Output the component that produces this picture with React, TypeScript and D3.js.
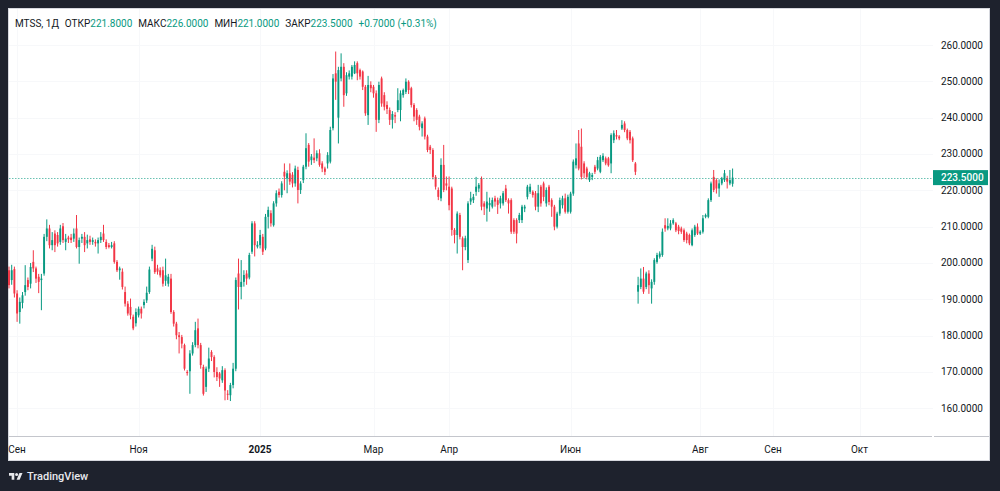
import React from "react";
import * as d3 from "d3";

// ---- Data (daily candles, MTSS) ----
const OPEN = [
198.0,195.3,198.3,191.6,186.5,189.0,192.0,195.3,194.3,200.3,198.5,196.2,195.3,197.1,207.2,209.5,204.9,208.1,207.7,205.8,
210.1,205.8,207.0,207.0,206.7,209.5,204.4,206.7,207.2,205.4,206.5,205.8,205.8,205.4,206.3,208.1,205.8,204.9,204.4,205.4,
200.3,198.0,197.6,192.0,188.8,187.9,185.2,183.4,185.6,187.4,188.4,189.7,192.0,201.2,203.5,198.5,198.0,198.0,195.1,194.3,
195.7,186.5,183.3,180.1,179.6,177.4,170.0,170.2,
175.1,177.4,182.0,177.4,171.4,165.9,170.9,175.5,174.1,170.0,169.6,167.7,170.5,164.0,163.6,166.4,170.9,197.1,193.4,194.8,
197.1,196.0,203.1,210.9,204.5,204.9,207.2,204.0,212.7,213.7,210.4,216.4,219.6,218.7,225.1,223.3,224.7,224.3,221.9,225.6,
220.1,222.8,226.5,232.5,228.3,229.0,228.8,230.2,227.4,226.0,227.4,227.9,237.1,252.2,240.0,250.8,254.0,246.7,251.3,251.3,
252.2,255.0,253.1,252.7,248.5,240.7,
249.0,248.5,246.7,239.4,250.8,246.2,243.5,242.1,239.4,240.7,242.1,242.1,246.2,247.1,249.9,248.1,243.5,242.1,240.3,237.1,
239.8,234.8,232.0,231.1,223.7,220.1,217.8,227.0,221.9,221.0,220.5,209.1,207.7,213.2,206.8,204.4,200.8,
216.9,217.3,219.6,220.5,223.3,216.4,215.0,215.9,215.5,217.8,217.3,216.4,216.4,220.5,217.3,217.3,211.8,211.8,211.8,211.8,
215.0,218.2,219.6,219.6,219.2,215.5,221.0,221.9,216.4,
221.0,217.3,215.5,210.0,213.6,215.9,217.8,214.1,214.1,219.1,226.9,232.9,232.0,227.4,226.0,222.8,223.7,226.5,226.0,225.1,
228.3,228.8,228.8,227.4,233.8,235.2,234.8,237.0,238.4,236.6,236.1,234.3,227.4,
192.1,193.4,195.7,193.4,197.1,193.0,194.8,200.3,201.7,202.2,210.4,209.5,209.5,210.9,210.9,210.0,209.5,209.0,208.1,207.7,
204.9,207.7,210.0,208.1,208.6,212.7,212.7,217.3,223.7,222.8,220.5,221.9,222.8,223.3,221.9,221.8];

const HIGH = [
199.0,199.5,199.0,192.5,190.5,192.0,199.4,196.0,200.0,203.5,199.0,197.0,197.0,208.0,212.0,210.5,208.5,209.0,208.5,210.5,
211.0,208.0,207.5,208.0,209.5,213.2,207.0,208.0,208.5,207.8,207.5,207.0,206.5,207.0,208.5,210.5,206.5,205.5,205.8,206.0,
200.8,199.0,198.5,193.5,189.5,190.2,185.8,187.5,188.0,188.0,190.0,193.5,199.0,205.0,204.5,199.5,198.8,199.0,201.2,197.0,
197.0,187.0,183.8,181.0,180.2,177.8,170.5,176.0,
178.2,183.8,184.7,178.0,172.0,171.5,176.7,176.0,174.6,171.3,170.0,171.6,171.0,165.0,167.0,172.5,196.0,201.2,200.8,198.0,
198.0,202.8,211.5,211.5,206.0,209.1,208.0,213.5,215.5,214.5,217.0,220.0,220.5,222.5,227.4,225.5,227.4,225.0,226.8,226.5,
222.5,227.0,235.7,233.0,230.0,234.3,231.0,231.3,228.0,226.5,230.5,237.5,252.0,258.2,254.0,257.7,255.0,252.5,253.0,254.5,
255.5,255.5,253.5,253.0,249.0,251.5,
250.0,249.0,247.5,249.9,251.3,247.0,244.5,242.8,241.8,241.5,248.1,247.5,248.0,250.8,250.3,248.5,244.0,242.6,240.8,239.0,
240.3,235.3,232.5,231.6,224.2,220.8,228.8,232.5,223.8,223.8,221.0,209.6,214.2,213.8,207.3,207.5,217.0,
219.6,219.0,223.7,222.0,223.8,217.0,219.6,218.0,218.0,218.5,218.0,218.5,219.8,221.5,217.8,217.8,212.3,212.3,213.8,216.0,
216.0,221.5,221.8,220.0,219.8,221.5,221.5,222.4,220.8,
221.5,217.8,216.0,214.1,218.0,218.5,219.1,218.8,219.6,228.5,232.9,236.6,237.0,228.0,226.5,225.1,224.8,227.0,229.2,229.7,
230.2,229.3,229.2,235.7,236.5,236.6,235.2,239.3,239.0,237.0,236.6,234.8,227.8,
196.2,198.5,198.9,197.6,198.0,195.5,201.3,202.8,203.2,209.5,212.3,212.3,211.8,212.3,211.3,210.5,210.0,209.5,208.6,208.1,
209.5,210.5,210.9,209.0,213.2,213.6,217.8,222.4,225.6,223.3,223.0,223.7,225.6,224.0,225.6,226.0];

const LOW = [
193.0,194.0,190.5,183.8,183.3,187.5,191.0,192.5,193.0,197.5,194.5,191.7,187.0,196.5,206.0,204.0,203.5,203.0,204.5,205.0,
205.5,203.5,205.5,205.5,205.8,204.0,199.8,205.5,203.0,204.0,205.0,205.0,204.5,202.6,205.5,205.8,203.8,204.0,204.0,199.8,
197.5,195.4,192.7,188.0,185.5,184.5,181.5,182.5,185.0,184.7,187.5,189.0,191.5,200.5,197.0,196.8,196.0,193.5,193.7,193.5,
186.0,182.5,179.0,175.1,176.5,170.4,169.0,164.0,
174.5,176.8,176.5,170.9,163.5,164.5,170.0,173.0,168.5,167.5,165.9,167.0,162.2,162.3,162.0,165.5,170.2,187.2,190.0,193.5,
194.0,195.5,202.5,201.8,204.0,204.0,202.2,203.5,209.5,210.0,210.0,215.5,218.0,218.0,220.0,219.2,221.5,220.8,221.0,216.4,
219.0,222.0,225.8,226.5,227.0,227.5,228.0,226.5,225.0,224.2,226.0,227.4,236.5,244.9,232.9,250.0,243.0,246.0,250.5,250.5,
252.0,250.3,250.5,247.6,240.5,238.0,
247.0,245.5,236.1,238.5,243.0,242.0,241.0,238.0,237.0,238.5,241.5,239.0,245.5,246.5,246.5,242.8,239.0,238.0,236.5,234.8,
234.0,230.5,230.0,223.0,220.2,217.3,217.0,219.5,220.0,214.5,207.5,205.4,202.6,206.5,198.0,203.5,200.0,
216.0,216.5,218.5,219.5,214.5,213.2,211.4,214.1,215.0,215.5,213.5,215.0,215.8,216.8,213.6,208.0,208.0,205.4,211.0,211.0,
214.0,217.5,219.0,218.0,214.5,214.0,215.5,217.0,215.5,
215.9,212.7,209.0,209.5,213.0,215.0,213.6,213.6,213.6,218.5,226.0,225.5,223.0,223.3,223.0,222.3,222.8,224.5,225.5,224.7,
227.8,226.9,226.5,224.7,233.0,234.0,233.8,236.6,236.0,233.8,232.9,227.8,224.2,
188.8,192.8,191.5,192.8,191.5,188.8,194.0,199.8,201.2,201.7,208.6,209.0,209.0,210.5,208.5,207.9,208.0,205.8,205.4,204.9,
204.6,207.2,207.7,207.7,208.1,212.3,212.3,216.8,219.5,219.1,218.2,221.4,222.3,220.5,221.4,221.0];

const CLOSE = [
193.9,198.0,191.6,186.1,189.3,191.1,193.9,193.4,198.9,198.5,195.7,194.8,195.7,207.2,209.5,204.9,206.3,204.9,205.4,209.5,
206.3,206.7,206.5,206.3,208.1,204.4,206.3,207.2,204.9,206.3,205.8,206.3,205.4,206.3,207.2,206.3,204.4,204.4,204.9,200.3,
198.0,198.5,193.4,188.8,186.1,185.6,182.0,186.5,187.4,186.1,189.3,191.8,198.2,203.9,197.5,197.6,196.6,194.3,196.6,196.2,
186.5,183.3,180.1,179.6,177.8,170.9,169.7,175.1,
177.4,181.5,177.4,171.9,164.0,170.9,173.7,174.1,170.0,168.6,168.2,170.5,164.9,163.8,166.4,170.9,195.3,193.4,194.8,196.7,
195.7,202.2,210.9,204.9,205.0,207.7,203.1,212.7,214.6,210.9,216.4,219.2,218.7,221.9,223.8,224.7,222.4,221.9,226.0,220.1,
221.9,226.5,231.6,227.9,229.3,228.3,230.2,227.0,226.0,225.1,229.7,236.6,250.8,249.9,253.1,254.0,246.2,251.7,252.2,254.0,
254.5,252.2,251.3,248.5,241.2,249.0,
248.1,246.7,239.4,249.0,243.9,243.0,242.4,239.4,241.0,240.3,244.8,246.7,247.6,249.9,247.6,243.5,240.3,239.4,237.5,238.4,
234.8,231.1,231.1,223.7,221.0,218.2,227.0,220.1,221.3,215.9,209.1,207.7,213.6,207.2,204.4,206.8,216.4,
217.8,218.2,221.0,221.5,215.5,215.5,216.9,216.5,217.3,216.9,216.0,217.8,219.2,217.3,216.4,208.6,208.6,208.1,213.2,215.5,
215.5,221.0,221.0,218.7,215.5,219.2,216.4,218.2,220.1,
216.8,215.5,210.0,213.6,217.3,217.8,214.1,218.2,219.1,227.9,228.8,226.0,223.7,224.7,223.7,224.7,224.2,225.1,228.3,229.2,
229.5,227.4,226.9,235.2,235.7,234.8,234.3,238.0,236.6,234.3,233.8,228.3,225.1,
193.9,195.7,192.1,197.1,193.9,194.8,200.8,202.2,202.6,208.6,209.5,210.2,210.9,211.8,209.0,208.8,208.6,206.3,206.3,205.4,
209.0,210.0,208.1,208.6,212.3,213.2,217.3,221.9,220.1,220.5,221.9,223.3,224.7,222.4,222.8,223.5];

const PRICE_TICKS = [160, 170, 180, 190, 200, 210, 220, 230, 240, 250, 260];
const MONTH_LABELS = ["Сен", "Ноя", "2025", "Мар", "Апр", "Июн", "Авг", "Сен", "Окт"];
const MONTH_INDEX = [3, 48, 93, 135, 163, 208, 256, 283, 315];
const MONTH_BOLD = [false, false, true, false, false, false, false, false, false];
const SYMBOL = "MTSS, 1Д";
const OHLC_KEYS = ["ОТКР", "МАКС", "МИН", "ЗАКР"];

const W = 1000, H = 491;
const PANEL = { x: 8, y: 8, r: 990, b: 461 };
const PLOT_R = 933, AXIS_Y = 436.5;
const UP = "#089981", DOWN = "#f23645", TEXT = "#131722";
const FONT = "Roboto, 'Noto Sans', sans-serif";

export default function App() {
  const n = CLOSE.length;
  const x = d3.scaleLinear().domain([0, n - 1]).range([9, 9 + 2.7 * (n - 1)]);
  const y = d3.scaleLinear().domain([160, 260]).range([408.3, 45]);
  const bw = 1.9;
  const last = n - 1;
  const lastClose = CLOSE[last];
  const chg = lastClose - CLOSE[last - 1];
  const chgPct = (chg / CLOSE[last - 1]) * 100;
  const fmt = (v: number) => v.toFixed(4);
  const ohlcVals = [OPEN[last], HIGH[last], LOW[last], CLOSE[last]];
  const sign = chg >= 0 ? "+" : "−";
  const chgText = `${sign}${fmt(Math.abs(chg))} (${sign}${Math.abs(chgPct).toFixed(2)}%)`;

  return (
    <svg width={W} height={H} style={{ position: "absolute", left: 0, top: 0, display: "block" }} fontFamily={FONT}>
      <defs>
        <clipPath id="plot">
          <rect x={PANEL.x} y={PANEL.y} width={PLOT_R - PANEL.x} height={AXIS_Y - PANEL.y} />
        </clipPath>
      </defs>
      <rect x={0} y={0} width={W} height={H} fill="#1e222d" />
      <rect x={PANEL.x + 0.5} y={PANEL.y + 0.5} width={PANEL.r - PANEL.x - 1} height={PANEL.b - PANEL.y - 1} fill="#ffffff" stroke="#d6d8de" />

      {/* grid */}
      <g stroke="#f7f8fa" strokeWidth={1}>
        {PRICE_TICKS.map((t) => (
          <line key={"h" + t} x1={PANEL.x + 1} x2={PLOT_R} y1={Math.round(y(t)) + 0.5} y2={Math.round(y(t)) + 0.5} />
        ))}
        {MONTH_INDEX.map((m, i) => (
          <line key={"v" + i} x1={Math.round(x(m)) + 0.5} x2={Math.round(x(m)) + 0.5} y1={PANEL.y + 1} y2={AXIS_Y} />
        ))}
      </g>

      {/* candles */}
      <g clipPath="url(#plot)">
        {CLOSE.map((c, i) => {
          const o = OPEN[i];
          const col = c >= o ? UP : DOWN;
          const cx = x(i);
          const top = y(Math.max(o, c));
          const bot = y(Math.min(o, c));
          return (
            <g key={i} fill={col} stroke={col}>
              <line x1={cx} x2={cx} y1={y(HIGH[i])} y2={y(LOW[i])} strokeWidth={1} />
              <rect x={cx - bw / 2} y={top} width={bw} height={Math.max(1, bot - top)} stroke="none" />
            </g>
          );
        })}
      </g>

      {/* last price line */}
      <line x1={PANEL.x + 1} x2={PLOT_R} y1={Math.round(y(lastClose)) + 0.5} y2={Math.round(y(lastClose)) + 0.5} stroke={UP} strokeOpacity={0.6} strokeWidth={1} strokeDasharray="1.5 1.5" />

      {/* time axis line */}
      <line x1={PANEL.x + 1} x2={PLOT_R - 1} y1={AXIS_Y} y2={AXIS_Y} stroke="#c4c6cc" />
      <line x1={PLOT_R + 1} x2={PANEL.r - 1} y1={AXIS_Y} y2={AXIS_Y} stroke="#c4c6cc" />

      {/* price labels */}
      <g fontSize={10} fill={TEXT}>
        {PRICE_TICKS.map((t) => (
          <text key={t} x={941} y={y(t)} dominantBaseline="central">
            {fmt(t)}
          </text>
        ))}
      </g>
      <rect x={933} y={y(lastClose) - 7.5} width={55} height={15} fill={UP} />
      <text x={941} y={y(lastClose)} dominantBaseline="central" fontSize={10} fontWeight={500} fill="#ffffff">
        {fmt(lastClose)}
      </text>

      {/* time labels */}
      <g fontSize={10} fill={TEXT} textAnchor="middle">
        {MONTH_LABELS.map((m, i) => (
          <text key={i} x={x(MONTH_INDEX[i])} y={449} dominantBaseline="central" fontWeight={MONTH_BOLD[i] ? 700 : 400}>
            {m}
          </text>
        ))}
      </g>

      {/* header */}
      <text x={15} y={22.5} dominantBaseline="central" fontSize={10} fill={TEXT}>
        <tspan>{SYMBOL}</tspan>
        {OHLC_KEYS.map((k, i) => (
          <React.Fragment key={k}>
            <tspan dx={6}>{k}</tspan>
            <tspan fill={UP}>{fmt(ohlcVals[i])}</tspan>
          </React.Fragment>
        ))}
        <tspan dx={6} fill={UP}>{chgText}</tspan>
      </text>

      {/* TradingView logo */}
      <g transform="translate(9,471.5) scale(0.38)" fill="#e8e9ec">
        <path d="M14 22H7V11H0V4h14v18z" />
        <path d="M28 22h-8l7.5-18h8L28 22z" />
        <circle cx={20} cy={8} r={4} />
      </g>
      <text x={27} y={476} dominantBaseline="central" fontSize={11} fontWeight={500} fill="#e8e9ec">
        TradingView
      </text>
    </svg>
  );
}
